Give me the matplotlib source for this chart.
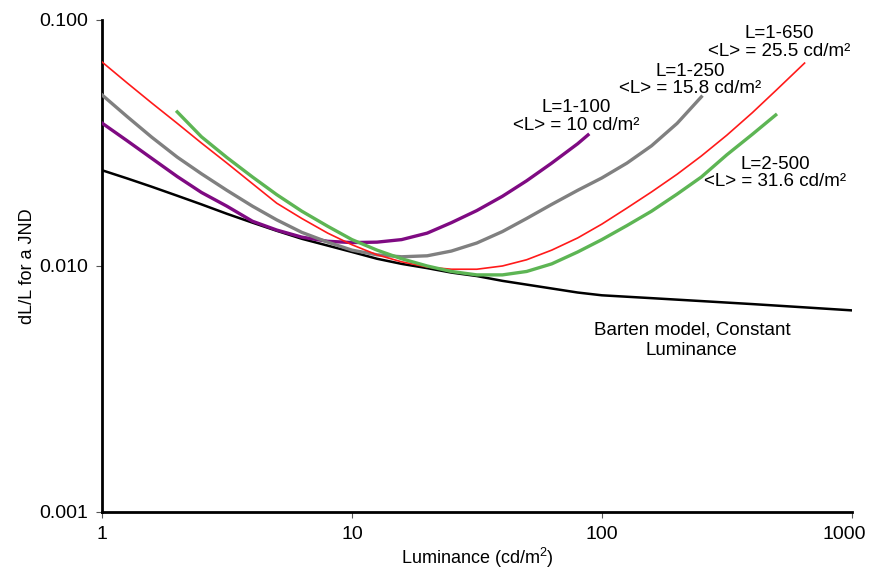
import matplotlib
matplotlib.use('Agg')
import matplotlib.pyplot as plt
from matplotlib.transforms import ScaledTranslation

plt.rcParams['font.family'] = ['Liberation Sans', 'DejaVu Sans']
plt.rcParams['mathtext.fontset'] = 'custom'
plt.rcParams['mathtext.rm'] = 'Liberation Sans'
plt.rcParams['mathtext.it'] = 'Liberation Sans:italic'

# Barten model, constant luminance
barten_L = [1, 1.26, 1.58, 2, 2.5, 3.16, 4, 5, 6.3, 8, 10, 12.6, 15.8, 20, 25,
            31.6, 40, 50, 63, 80, 100, 158, 250, 400, 630, 1000]
barten_v = [0.0245, 0.0227, 0.0210, 0.0193, 0.0178, 0.0163, 0.0150, 0.0139,
            0.0129, 0.0121, 0.0114, 0.0107, 0.0102, 0.0098, 0.0094, 0.0091,
            0.0087, 0.0084, 0.0081, 0.0078, 0.0076, 0.0074, 0.0072, 0.0070,
            0.0068, 0.0066]

# L = 1-100, <L> = 10
p100_L = [1, 1.26, 1.58, 2, 2.5, 3.16, 4, 5, 6.3, 8, 10, 12.6, 15.8, 20, 25,
          31.6, 40, 50, 63, 80, 88]
p100_v = [0.0381, 0.0323, 0.0274, 0.0231, 0.0199, 0.0175, 0.0152, 0.0140,
          0.0131, 0.0126, 0.01245, 0.0125, 0.0128, 0.0136, 0.0150, 0.0168,
          0.0192, 0.0222, 0.0262, 0.0314, 0.0341]

# L = 1-250, <L> = 15.8
p250_L = [1, 1.26, 1.58, 2, 2.5, 3.16, 4, 5, 6.3, 8, 10, 12.6, 15.8, 20, 25,
          31.6, 40, 50, 63, 80, 100, 126, 158, 200, 250]
p250_v = [0.0496, 0.0405, 0.0334, 0.0277, 0.0237, 0.0203, 0.0175, 0.0154,
          0.0137, 0.0125, 0.0116, 0.0111, 0.0109, 0.0110, 0.0115, 0.0124,
          0.0138, 0.0156, 0.0178, 0.0203, 0.0228, 0.0262, 0.0308, 0.0380,
          0.0487]

# L = 1-650, <L> = 25.5
p650_L = [1, 1.26, 1.58, 2, 2.5, 3.16, 4, 5, 6.3, 8, 10, 12.6, 15.8, 20, 25,
          31.6, 40, 50, 63, 80, 100, 126, 158, 200, 250, 316, 400, 500, 647]
p650_v = [0.0675, 0.0555, 0.0460, 0.0380, 0.0316, 0.0262, 0.0216, 0.0180,
          0.0156, 0.0136, 0.0122, 0.0111, 0.0104, 0.0099, 0.0097, 0.0097,
          0.0100, 0.0106, 0.0116, 0.0130, 0.0148, 0.0172, 0.0200, 0.0236,
          0.0280, 0.0340, 0.0420, 0.0520, 0.0668]

# L = 2-500, <L> = 31.6
p500_L = [2, 2.5, 3.16, 4, 5, 6.3, 8, 10, 12.6, 15.8, 20, 25, 31.6, 40, 50,
          63, 80, 100, 126, 158, 200, 250, 316, 400, 496]
p500_v = [0.0423, 0.0335, 0.0276, 0.0230, 0.0195, 0.0167, 0.0145, 0.0128,
          0.0116, 0.0107, 0.0100, 0.0095, 0.0092, 0.0092, 0.0095, 0.0102,
          0.0114, 0.0128, 0.0146, 0.0167, 0.0196, 0.0230, 0.0283, 0.0343,
          0.0411]

x_ticks = [1, 10, 100, 1000]
x_tick_labels = ['1', '10', '100', '1000']
y_ticks = [0.001, 0.01, 0.1]
y_tick_labels = ['0.001', '0.010', '0.100']

fig = plt.figure(figsize=(8.71, 5.69), dpi=100)
ax = fig.add_axes([0.1171, 0.1002, 0.8609, 0.8647])

ax.plot(barten_L, barten_v, color='black', lw=1.8, zorder=2)
ax.plot(p100_L, p100_v, color='#7f0a82', lw=2.4, zorder=3)
ax.plot(p250_L, p250_v, color='#808080', lw=2.4, zorder=3)
ax.plot(p650_L, p650_v, color='#ff1a1a', lw=1.2, zorder=4)
ax.plot(p500_L, p500_v, color='#5db554', lw=2.4, zorder=5)

ax.set_xscale('log')
ax.set_yscale('log')
ax.set_xlim(1, 1000)
ax.set_ylim(0.001, 0.1)
ax.set_xticks(x_ticks)
ax.set_xticklabels(x_tick_labels)
ax.set_yticks(y_ticks)
ax.set_yticklabels(y_tick_labels)
ax.minorticks_off()

for s in ['top', 'right']:
    ax.spines[s].set_visible(False)
for s in ['left', 'bottom']:
    ax.spines[s].set_linewidth(2.0)
ax.tick_params(direction='out', length=4, width=0.8, color='#555555',
               labelsize=14, pad=6)

# keep the last x label inside the figure
last = ax.get_xticklabels()[-1]
last.set_transform(last.get_transform() + ScaledTranslation(-8 / 100, 0, fig.dpi_scale_trans))

ax.set_xlabel('Luminance (cd/m$^2$)', fontsize=13, labelpad=2)
ax.set_ylabel('dL/L for a JND', fontsize=13, labelpad=2)

# curve labels
lab = dict(ha='center', va='center', fontsize=13.5, linespacing=1.05)
ax.text(511, 0.0810, 'L=1-650\n<L> = 25.5 cd/m\u00b2', **lab)
ax.text(225, 0.0570, 'L=1-250\n<L> = 15.8 cd/m\u00b2', **lab)
ax.text(78.7, 0.0404, 'L=1-100\n<L> = 10 cd/m\u00b2', **lab)
ax.text(492, 0.0239, 'L=2-500\n<L> = 31.6 cd/m\u00b2', **lab)
ax.text(229, 0.00498, 'Barten model, Constant\nLuminance',
        ha='center', va='center', fontsize=13.5, linespacing=1.3)

fig.savefig('out.png', dpi=100, facecolor='white')
